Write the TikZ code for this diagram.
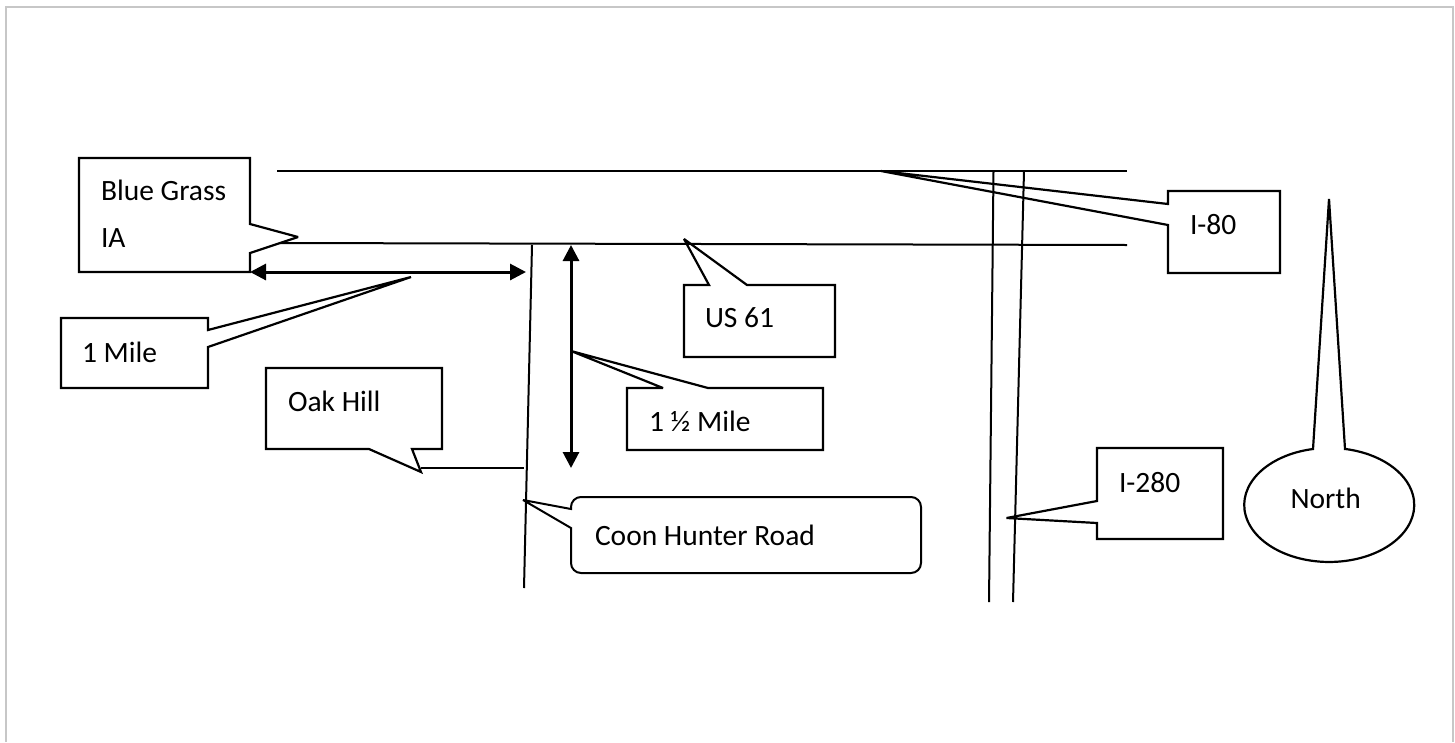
\documentclass[tikz,border=0pt]{standalone}
\usepackage{fontspec}
\setmainfont{Carlito}
\usetikzlibrary{arrows.meta}
\tikzset{
  x=1pt,y=-1pt,
  road/.style={line width=2pt,black},
  callout/.style={draw=black,line width=2.2pt,line join=miter,miter limit=3},
  label/.style={anchor=base west,inner sep=0pt,outer sep=0pt,font=\fontsize{29.5}{34}\selectfont,text=black},
  span/.style={line width=3pt,black,{Triangle[length=16pt,width=16pt]}-{Triangle[length=16pt,width=16pt]}},
  frameline/.style={draw=black!22,line width=2pt}
}
\begin{document}
\begin{tikzpicture}
\useasboundingbox (0,0) rectangle (1455,742);
\draw[frameline] (6,742) -- (6,6.5) -- (1453,6.5) -- (1453,742);

% named road ends
\coordinate (i80aW) at (277,171);
\coordinate (i80aE) at (1127,171);
\coordinate (us61W) at (280,243);
\coordinate (us61E) at (1127,245);
\coordinate (coonN) at (532,245);
\coordinate (coonS) at (524,588);
\coordinate (i280aN) at (993.5,171);
\coordinate (i280aS) at (989,602);
\coordinate (i280bN) at (1024,171);
\coordinate (i280bS) at (1013,602);
\coordinate (oakR) at (524,468);
\coordinate (oakL) at (421,468);
\coordinate (spanW) at (250,272);
\coordinate (spanE) at (526,272);
\coordinate (spanN) at (571,245);
\coordinate (spanS) at (571,468);

% roads
\draw[road] (i80aW) -- (i80aE);
\draw[road] (us61W) -- (us61E);
\draw[road] (coonN) -- (coonS);
\draw[road] (i280aN) -- (i280aS);
\draw[road] (i280bN) -- (i280bS);
\draw[road] (oakL) -- (oakR);

% callouts
\draw[callout] (79,158) -- (250,158) -- (250,224) -- (298,237) -- (250,253) -- (250,272) -- (79,272) -- cycle;
\draw[callout] (61,318) -- (208,318) -- (208,330) -- (411,277) -- (208,347) -- (208,388) -- (61,388) -- cycle;
\draw[callout] (266,368) -- (442,368) -- (442,449) -- (412,449) -- (421,472) -- (369,449) -- (266,449) -- cycle;
\draw[callout] (684,285) -- (709,285) -- (684,239) -- (747,285) -- (835,285) -- (835,357) -- (684,357) -- cycle;
\draw[callout] (627,388) -- (663,388) -- (571,351) -- (708,388) -- (823,388) -- (823,450) -- (627,450) -- cycle;
\draw[callout,line width=2pt] (581,497) -- (911,497) arc[start angle=90,end angle=0,x radius=10,y radius=-10] -- (921,563) arc[start angle=0,end angle=-90,x radius=10,y radius=-10] -- (581,573) arc[start angle=270,end angle=180,x radius=10,y radius=-10] -- (571,528) -- (523,500) -- (571,509) -- (571,507) arc[start angle=180,end angle=90,x radius=10,y radius=-10] -- cycle;
\draw[callout] (1168,191) -- (1280,191) -- (1280,273) -- (1168,273) -- (1168,225) -- (881,171) -- (1168,204) -- cycle;
\draw[callout] (1097,448) -- (1223,448) -- (1223,539) -- (1097,539) -- (1097,523) -- (1006.5,518) -- (1097,501) -- cycle;

% north pointer
\draw[callout] (1345,449) -- (1329,199) -- (1313,449)
  arc[start angle=101,end angle=439,x radius=85,y radius=-57] -- cycle;

% spans
\draw[span] (spanW) -- (spanE);
\draw[span] (spanN) -- (spanS);

% labels
\node[label] (blue) at (101,200) {Blue Grass};
\node[label] (ia) at (101,247) {IA};
\node[label] (onemile) at (82,362) {1 Mile};
\node[label] (oak) at (288,411) {Oak Hill};
\node[label] (us) at (705,327) {US 61};
\node[label] (half) at (649,431) {1 ½ Mile};
\node[label] (coon) at (595,545) {Coon Hunter Road};
\node[label] (ieighty) at (1190,234) {I-80};
\node[label] (itwo) at (1119,492) {I-280};
\node[label] (north) at (1290.5,508) {North};
\end{tikzpicture}
\end{document}
